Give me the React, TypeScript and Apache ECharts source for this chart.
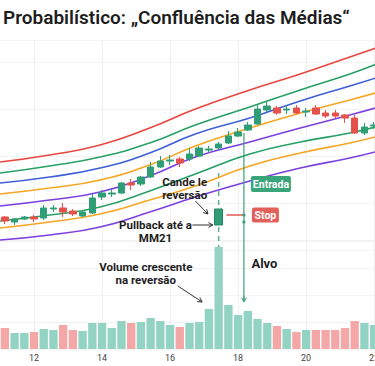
import React, { useEffect, useRef } from 'react';
import * as echarts from 'echarts';

const titleText = 'Probabilístico: „Confluência das Médias“';

// candles: [open, close, low, high]
const candles: number[][] = [
  [33, 29, 26, 34], [28, 31, 25, 32], [31, 33, 30, 34], [33, 31, 28, 35],
  [32, 42, 30, 45], [41, 42, 38, 45], [42, 38, 33, 47], [39, 36, 34, 41],
  [34, 38, 33, 39], [37, 52, 36, 56], [53, 57, 50, 60], [56, 57, 53, 61],
  [57, 67, 56, 68], [67, 65, 60, 71], [66, 73, 64, 74], [73, 83, 72, 88],
  [83, 89, 82, 94], [89, 90, 85, 95], [91, 87, 83, 93], [91, 96, 89, 102],
  [94, 102, 93, 104], [100, 101, 98, 104], [102, 106, 100, 108], [107, 114, 106, 119],
  [114, 118, 113, 122], [120, 125, 119, 128], [126, 141, 125, 145], [140, 144, 138, 148],
  [142, 137, 135, 144], [140, 141, 136, 145], [142, 137, 136, 145], [138, 139, 133, 142],
  [142, 136, 135, 145], [137, 134, 132, 140], [137, 134, 132, 140], [135, 132, 127, 136],
  [132, 117, 116, 135], [117, 123, 115, 127], [124, 125, 121, 128],
];

const volumes = [
  21, 16, 16, 17, 20, 19, 24, 19, 18, 26, 26, 21, 28, 26, 27, 31, 28, 24, 22, 26,
  27, 40, 102, 44, 34, 38, 30, 26, 23, 20, 17, 19, 19, 19, 19, 21, 28, 26, 24,
];

const tickIndex = [3, 10, 17, 24, 31, 38];
const tickLabels = ['12', '14', '16', '18', '20', '22'];

// moving averages sampled at category positions
const maX = [-0.5, 4.6, 9.8, 14.9, 19.6, 25.2, 30.4, 35.5, 38.5];
const maRed = [88, 95, 105, 122, 141, 160, 176, 193, 203];
const maGreen = [77, 84, 93, 107, 125, 143, 160, 176, 187];
const maBlue = [67, 73, 82, 97, 116, 132, 149, 164, 173];
const maOrange = [56, 62, 70, 85, 104, 122, 137, 150, 158];
const maPurple = [44, 50, 58, 74, 93, 108, 122, 135, 143];
const maGreen2 = [29, 35, 43, 59, 76, 96, 108, 117, 124];
const maOrange2 = [22, 28, 36, 50, 64, 84, 97, 107, 114];
const maPurple2 = [10, 15, 23, 38, 53, 69, 82, 92, 99];

// annotation values
const reversalIndex = 22;
const reversalCandle = [25, 41, 25, 41];
const reversalWickTop = 77; // price units
const reversalWickBottomVol = 102; // volume units
const targetX = 24.6;
const targetTop = 117;
const targetBottomVol = 47;
const stopLevel = 35;
const stopStartX = 22.8;
const entryLevel = 66;

const UP = '#2f9e77';
const DOWN = '#e5514b';
const VOL_UP = '#93d3c3';
const VOL_DOWN = '#f4a7a7';
const FONT = 'Roboto, "Noto Sans", sans-serif';

export default function App() {
  const ref = useRef<HTMLDivElement>(null);
  useEffect(() => {
    if (!ref.current) return;
    const chart = echarts.init(ref.current, undefined, { renderer: 'svg' });
    const cats = candles.map((_, i) => String(i));
    const lineSeries = (data: number[], color: string) => ({
      type: 'line',
      xAxisIndex: 2,
      yAxisIndex: 0,
      data: data.map((v, i) => [maX[i], v]),
      smooth: true,
      symbol: 'none',
      silent: true,
      lineStyle: { color, width: 1.6 },
      z: 1,
    });
    const revData = candles.map((_, i) => (i === reversalIndex ? reversalCandle : '-'));
    const splitX = { show: true, alignWithLabel: true, interval: (i: number) => tickIndex.includes(i), lineStyle: { color: '#f0f0f0' } };
    const option: any = {
      animation: false,
      backgroundColor: '#ffffff',
      title: {
        text: titleText,
        left: 3,
        top: 8,
        padding: 0,
        textStyle: { fontSize: 19, fontWeight: 600, color: '#1d1d1d', fontFamily: FONT },
      },
      grid: [
        { left: 0, top: 40, width: 379, height: 210, outerBoundsMode: 'none', containLabel: false },
        { left: 0, top: 240, width: 379, height: 109, outerBoundsMode: 'none', containLabel: false },
      ],
      xAxis: [
        {
          type: 'category', gridIndex: 0, data: cats, boundaryGap: true,
          axisLine: { show: false }, axisTick: { show: false }, axisLabel: { show: false },
          splitLine: splitX,
        },
        {
          type: 'category', gridIndex: 1, data: cats, boundaryGap: true,
          axisLine: { show: false }, axisTick: { show: false },
          axisLabel: {
            interval: (i: number) => tickIndex.includes(i),
            formatter: (_v: string, i: number) => tickLabels[tickIndex.indexOf(i)] ?? '',
            fontSize: 9, color: '#444', margin: 4, fontFamily: FONT, hideOverlap: false,
          },
          splitLine: splitX,
        },
        { type: 'value', gridIndex: 0, min: -0.5, max: 38.5, show: false },
      ],
      yAxis: [
        {
          type: 'value', gridIndex: 0, min: 0, max: 210, interval: 47,
          axisLine: { show: false }, axisTick: { show: false }, axisLabel: { show: false },
          splitLine: { lineStyle: { color: '#f3f3f3' } },
        },
        {
          type: 'value', gridIndex: 1, min: 0, max: 109, interval: 27,
          axisLine: { show: false }, axisTick: { show: false }, axisLabel: { show: false },
          splitLine: { lineStyle: { color: '#f3f3f3' } },
        },
      ],
      series: [
        lineSeries(maRed, '#e8473f'),
        lineSeries(maGreen, '#27a065'),
        lineSeries(maBlue, '#3f5fd8'),
        lineSeries(maOrange, '#f6a623'),
        lineSeries(maPurple, '#7c3fe0'),
        lineSeries(maGreen2, '#27a065'),
        lineSeries(maOrange2, '#f6a623'),
        lineSeries(maPurple2, '#7c3fe0'),
        {
          type: 'candlestick', xAxisIndex: 0, yAxisIndex: 0, data: candles, barWidth: 7,
          itemStyle: { color: UP, color0: DOWN, borderColor: UP, borderColor0: DOWN, borderWidth: 1 },
          z: 3,
        },
        {
          type: 'candlestick', xAxisIndex: 0, yAxisIndex: 0, data: revData, barWidth: 8,
          itemStyle: { color: UP, color0: UP, borderColor: '#23875f', borderColor0: '#23875f', borderWidth: 1 },
          z: 5,
        },
        {
          type: 'bar', xAxisIndex: 1, yAxisIndex: 1, barCategoryGap: '14%',
          data: volumes.map((v, i) => ({
            value: v,
            itemStyle: { color: candles[i][1] >= candles[i][0] ? VOL_UP : VOL_DOWN },
          })),
          z: 2,
        },
      ],
    };
    chart.setOption(option);

    const X = (v: number) => chart.convertToPixel({ xAxisIndex: 2 } as any, v) as unknown as number;
    const P = (v: number) => chart.convertToPixel({ yAxisIndex: 0 } as any, v) as unknown as number;
    const V = (v: number) => chart.convertToPixel({ yAxisIndex: 1 } as any, v) as unknown as number;

    const arrow = (x1: number, y1: number, x2: number, y2: number, color: string) => {
      const ang = Math.atan2(y2 - y1, x2 - x1);
      const L = 5, a = 0.5;
      return [
        { type: 'line', z: 50, shape: { x1, y1, x2, y2 }, style: { stroke: color, lineWidth: 1 } },
        {
          type: 'polyline', z: 50,
          shape: { points: [[x2 - L * Math.cos(ang - a), y2 - L * Math.sin(ang - a)], [x2, y2], [x2 - L * Math.cos(ang + a), y2 - L * Math.sin(ang + a)]] },
          style: { stroke: color, lineWidth: 1, fill: null },
        },
      ];
    };
    const txt = (x: number, y: number, text: string, size: number, color = '#1e1e1e', weight = 700) => ({
      type: 'text', z: 60, x, y,
      style: {
        text, fill: color, font: `${weight} ${size}px ${FONT}`,
        align: 'center', verticalAlign: 'middle', textAlign: 'center', textVerticalAlign: 'middle',
      },
    });
    const two = (x: number, yMid: number, a: string, b: string, size = 11.5, gap = 13) => [
      txt(x, yMid - gap / 2, a, size),
      txt(x, yMid + gap / 2, b, size),
    ];

    const tx = X(targetX);
    const stopY = P(stopLevel);
    const entryY = P(entryLevel);
    const revX = X(reversalIndex);
    const graphics: any[] = [
      {
        type: 'line', z: 1,
        shape: { x1: revX, y1: P(reversalWickTop), x2: revX, y2: V(reversalWickBottomVol) },
        style: { stroke: '#5fb393', lineWidth: 1.5, lineDash: [5, 4] },
      },
      {
        type: 'line', z: 40,
        shape: { x1: tx, y1: P(targetTop), x2: tx, y2: V(targetBottomVol) },
        style: { stroke: '#3a9f78', lineWidth: 1.2 },
      },
      ...arrow(tx, V(targetBottomVol) - 6, tx, V(targetBottomVol), '#3a9f78'),
      { type: 'circle', z: 41, shape: { cx: tx, cy: stopY, r: 1.6 }, style: { fill: '#3a9f78' } },
      { type: 'circle', z: 41, shape: { cx: tx, cy: stopY + 7, r: 1.6 }, style: { fill: '#3a9f78' } },
      {
        type: 'line', z: 40,
        shape: { x1: X(stopStartX), y1: stopY, x2: tx, y2: stopY },
        style: { stroke: '#e05a55', lineWidth: 1.5 },
      },
      { type: 'rect', z: 55, shape: { x: tx + 8, y: stopY - 7.5, width: 27, height: 15, r: 2 }, style: { fill: '#e2605a' } },
      txt(tx + 21.5, stopY, 'Stop', 10.5, '#ffffff', 700),
      { type: 'rect', z: 55, shape: { x: tx + 7, y: entryY - 8, width: 40, height: 16, r: 2 }, style: { fill: '#3aa57a' } },
      txt(tx + 27, entryY, 'Entrada', 10.5, '#ffffff', 700),
      txt(tx + 20.5, V(86), 'Alvo', 13, '#1e1e1e', 700),
      ...two(X(18.5), P(62), 'Cande le', 'reversão'),
      ...two(X(15.5), P(19), 'Pullback até a', 'MM21'),
      ...two(X(14.5), V(76), 'Volume crescente', 'na reversão'),
      ...arrow(X(19.6), P(49), X(20.9), P(36), '#333333'),
      ...arrow(X(19.3), P(25), X(21.4), P(25), '#333333'),
      ...arrow(X(17.8), V(63), X(20.3), V(47), '#333333'),
    ];
    chart.setOption({ graphic: graphics });

    return () => chart.dispose();
  }, []);
  return <div ref={ref} style={{ position: 'fixed', left: 0, top: 0, width: 375, height: 366 }} />;
}
